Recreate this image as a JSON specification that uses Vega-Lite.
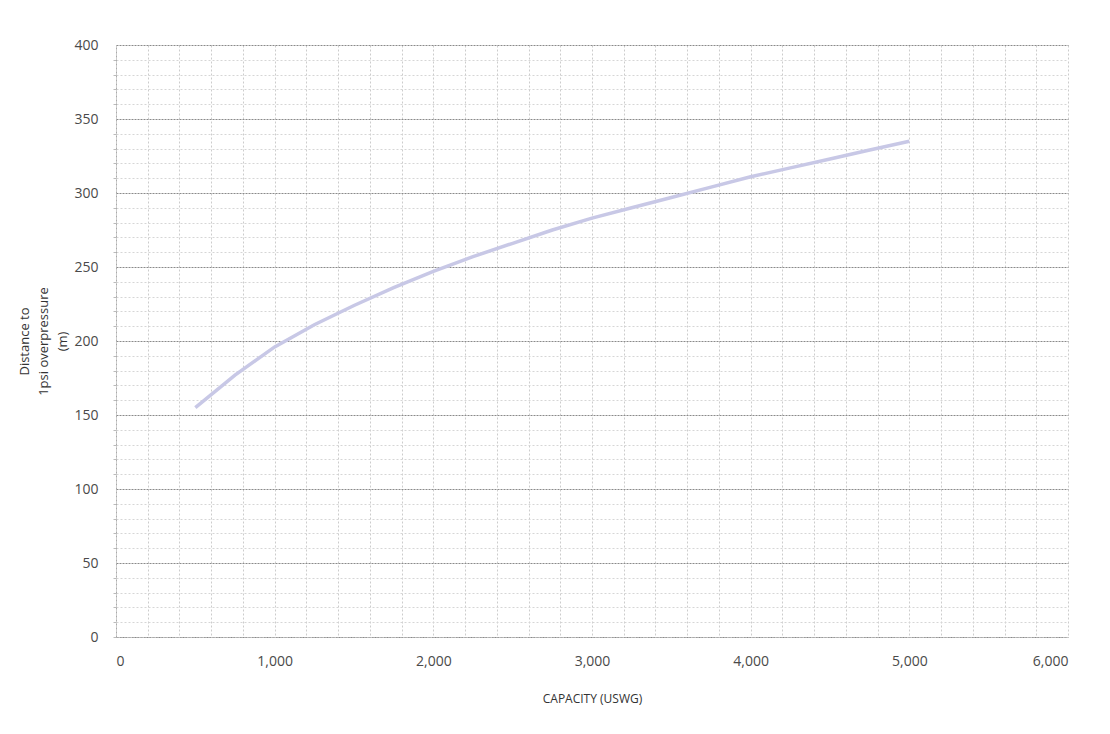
{
  "$schema": "https://vega.github.io/schema/vega-lite/v6.json",
  "width": 952,
  "height": 592,
  "autosize": "none",
  "padding": {"left": 116, "top": 45, "right": 42, "bottom": 97},
  "background": "white",
  "config": {
    "font": "Open Sans",
    "view": {"stroke": null}
  },
  "data": {
    "values": [
      {"capacity": 500, "distance": 155},
      {"capacity": 750, "distance": 177},
      {"capacity": 1000, "distance": 196},
      {"capacity": 1250, "distance": 211},
      {"capacity": 1500, "distance": 224},
      {"capacity": 1750, "distance": 236},
      {"capacity": 2000, "distance": 247},
      {"capacity": 2250, "distance": 257},
      {"capacity": 2500, "distance": 266},
      {"capacity": 2750, "distance": 275},
      {"capacity": 3000, "distance": 283},
      {"capacity": 3250, "distance": 290},
      {"capacity": 3500, "distance": 297},
      {"capacity": 3750, "distance": 304},
      {"capacity": 4000, "distance": 311},
      {"capacity": 4250, "distance": 317},
      {"capacity": 4500, "distance": 323},
      {"capacity": 4750, "distance": 329},
      {"capacity": 5000, "distance": 335}
    ]
  },
  "layer": [
    {
      "mark": {"type": "line", "opacity": 0},
      "encoding": {
        "x": {
          "field": "capacity",
          "type": "quantitative",
          "scale": {"domain": [0, 6000], "nice": false},
          "axis": {
            "orient": "bottom",
            "values": [0, 200, 400, 600, 800, 1000, 1200, 1400, 1600, 1800, 2000, 2200, 2400, 2600, 2800, 3000, 3200, 3400, 3600, 3800, 4000, 4200, 4400, 4600, 4800, 5000, 5200, 5400, 5600, 5800, 6000],
            "labels": false,
            "ticks": false,
            "domain": false,
            "title": null,
            "grid": true,
            "gridColor": "#cccccc",
            "gridDash": [2, 2],
            "gridWidth": 1
          }
        },
        "y": {
          "field": "distance",
          "type": "quantitative",
          "scale": {"domain": [0, 400], "nice": false},
          "axis": {
            "orient": "left",
            "values": [0, 10, 20, 30, 40, 60, 70, 80, 90, 110, 120, 130, 140, 160, 170, 180, 190, 210, 220, 230, 240, 260, 270, 280, 290, 310, 320, 330, 340, 360, 370, 380, 390],
            "labels": false,
            "ticks": true,
            "tickSize": 3,
            "tickColor": "#bbbbbb",
            "domain": false,
            "title": null,
            "grid": true,
            "gridColor": "#d6d6d6",
            "gridDash": [2, 2],
            "gridWidth": 1
          }
        }
      }
    },
    {
      "mark": {"type": "line", "color": "#c8c8e6", "strokeWidth": 3.5},
      "encoding": {
        "x": {
          "field": "capacity",
          "type": "quantitative",
          "axis": {
            "orient": "bottom",
            "values": [0, 1000, 2000, 3000, 4000, 5000, 6000],
            "format": ",.0f",
            "grid": false,
            "ticks": false,
            "domain": true,
            "domainColor": "#aaaaaa",
            "domainDash": [2, 2],
            "labelFontSize": 14,
            "labelColor": "#4a4a4a",
            "labelPadding": 17,
            "title": "CAPACITY (USWG)",
            "titleFontSize": 12,
            "titleFontWeight": "normal",
            "titleColor": "#333333",
            "titlePadding": 25
          }
        },
        "y": {
          "field": "distance",
          "type": "quantitative",
          "axis": {
            "orient": "left",
            "values": [0, 50, 100, 150, 200, 250, 300, 350, 400],
            "grid": true,
            "gridColor": "#8a8a8a",
            "gridDash": [2, 1],
            "gridWidth": 1,
            "ticks": false,
            "domain": true,
            "domainColor": "#aaaaaa",
            "domainDash": [2, 2],
            "labelFontSize": 14,
            "labelColor": "#4a4a4a",
            "labelPadding": 18,
            "title": ["Distance to", "1psi overpressure", "(m)"],
            "titleFontSize": 13,
            "titleFontWeight": "normal",
            "titleColor": "#333333",
            "titleAngle": -90,
            "titleAlign": "center",
            "titleBaseline": "top",
            "titleX": -98,
            "titleY": 296,
            "titleLineHeight": 19
          }
        }
      }
    }
  ],
  "resolve": {"axis": {"x": "independent", "y": "independent"}}
}
